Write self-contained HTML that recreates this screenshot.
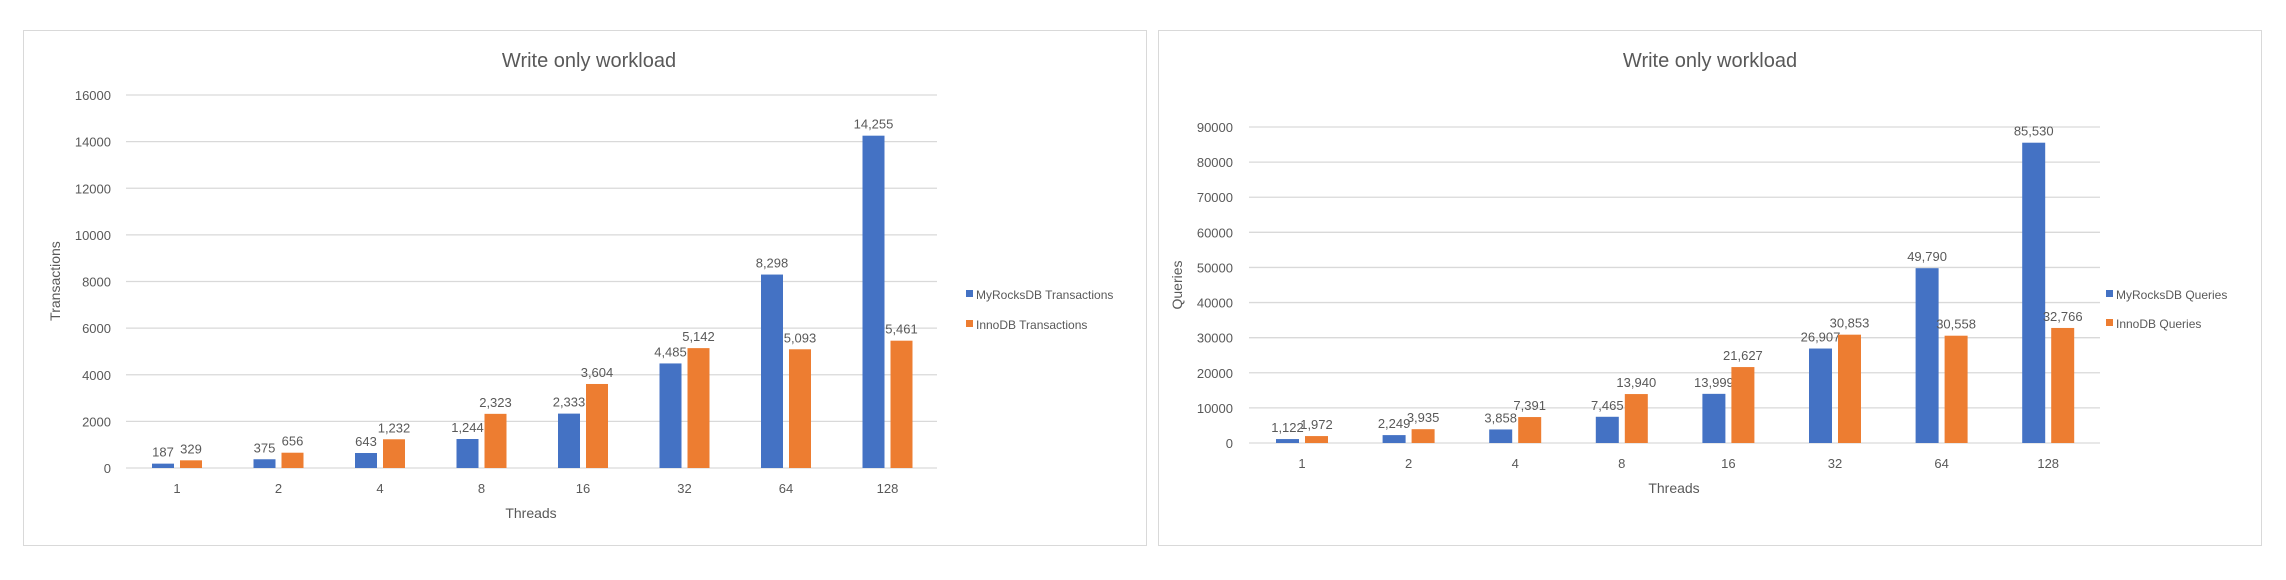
<!DOCTYPE html>
<html><head><meta charset="utf-8"><style>
body{margin:0;background:#fff;width:2286px;height:580px;overflow:hidden}
svg{display:block}
text{font-family:"Liberation Sans",sans-serif;fill:#595959}
</style></head><body>
<svg id="s" width="2286" height="580" xmlns="http://www.w3.org/2000/svg">
<rect x="23.5" y="30.5" width="1123" height="515" fill="#fff" stroke="#d9d9d9"/>
<rect x="1158.5" y="30.5" width="1103" height="515" fill="#fff" stroke="#d9d9d9"/>
</svg>
<script>
var s=document.getElementById('s'),h='';
function fmt(v){return v.toString().replace(/\B(?=(\d{3})+(?!\d))/g,',');}
function chart(o){
 h+='<text x="'+o.tx+'" y="67" font-size="20" text-anchor="middle">Write only workload</text>';
 for(var i=0;i<=o.n;i++){var y=o.y0-(o.y0-o.y1)*i/o.n;
  h+='<line x1="'+o.gx0+'" x2="'+o.gx1+'" y1="'+y+'" y2="'+y+'" stroke="#d9d9d9" stroke-width="1.3"/>';
  h+='<text x="'+o.lx+'" y="'+(y+5)+'" font-size="13" text-anchor="end">'+(o.step*i)+'</text>';}
 var cats=['1','2','4','8','16','32','64','128'];
 for(var i=0;i<8;i++){var c=o.c0+o.sp*i;
  h+='<text x="'+c+'" y="'+(o.xl)+'" font-size="13" text-anchor="middle">'+cats[i]+'</text>';
  [[o.a[i],'#4472C4',c-o.bw-3],[o.b[i],'#ED7D31',c+3]].forEach(function(d){
   var ht=(o.y0-o.y1)*d[0]/(o.step*o.n);var top=o.y0-ht;
   h+='<rect x="'+d[2]+'" y="'+top+'" width="'+o.bw+'" height="'+ht+'" fill="'+d[1]+'"/>';
   h+='<text x="'+(d[2]+o.bw/2)+'" y="'+(top-7)+'" font-size="13" text-anchor="middle">'+fmt(d[0])+'</text>';});}
 h+='<text x="'+o.thx+'" y="'+o.thy+'" font-size="14" text-anchor="middle">Threads</text>';
 h+='<text transform="translate('+o.ytx+','+o.yty+') rotate(-90)" font-size="14" text-anchor="middle">'+o.yt+'</text>';
 h+='<rect x="'+o.lgx+'" y="'+(o.lg1-5)+'" width="7" height="7" fill="#4472C4"/><text x="'+(o.lgx+10)+'" y="'+(o.lg1+4)+'" font-size="12">'+o.l1+'</text>';
 h+='<rect x="'+o.lgx+'" y="'+(o.lg2-5)+'" width="7" height="7" fill="#ED7D31"/><text x="'+(o.lgx+10)+'" y="'+(o.lg2+4)+'" font-size="12">'+o.l2+'</text>';
}
chart({tx:589,gx0:126,gx1:937,y0:468,y1:95,n:8,step:2000,lx:111,c0:177,sp:101.5,bw:22,xl:493,
 a:[187,375,643,1244,2333,4485,8298,14255],b:[329,656,1232,2323,3604,5142,5093,5461],
 thx:531,thy:518,ytx:60,yty:281,yt:'Transactions',lgx:966,lg1:295,lg2:325,l1:'MyRocksDB Transactions',l2:'InnoDB Transactions'});
chart({tx:1710,gx0:1249,gx1:2100,y0:443,y1:127,n:9,step:10000,lx:1233,c0:1302,sp:106.6,bw:23,xl:468,
 a:[1122,2249,3858,7465,13999,26907,49790,85530],b:[1972,3935,7391,13940,21627,30853,30558,32766],
 thx:1674,thy:493,ytx:1182,yty:285,yt:'Queries',lgx:2106,lg1:295,lg2:324,l1:'MyRocksDB Queries',l2:'InnoDB Queries'});
s.innerHTML+=h;
</script>
</body></html>
